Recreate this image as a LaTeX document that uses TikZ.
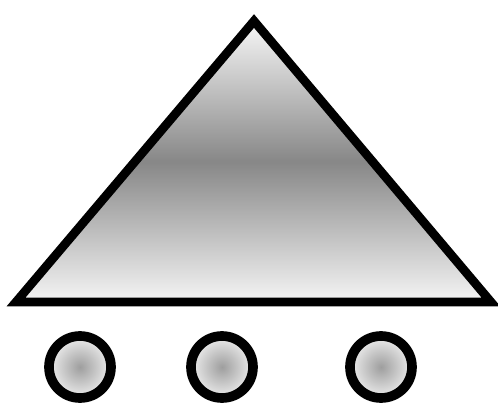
\documentclass[tikz,border=0pt]{standalone}
\usepackage{tikz}
\usetikzlibrary{positioning,calc}

\begin{document}
\begin{tikzpicture}[
            x=0.02cm, y=-0.02cm,
            outline/.style={draw=black, line width=5pt, line join=miter},
            roof/.style={outline, top color=black!3, bottom color=black!4, middle color=black!47},
            ball/.style={circle, outline, line width=5.5pt, minimum size=1.24cm, inner sep=0pt, inner color=black!38, outer color=black!7},
        ]
            \useasboundingbox (0,0) rectangle (498,403);
            \coordinate (apex) at (254,21);
            \coordinate (left) at (16,302);
            \coordinate (right) at (491,302);
            \shade[roof] (left) -- (apex) -- (right) -- cycle;

            \node[ball] (ballA) at (80,367) {};
            \node[ball] (ballB) at (222,367) {};
            \node[ball] (ballC) at (381,367) {};
        \end{tikzpicture}
\end{document}
